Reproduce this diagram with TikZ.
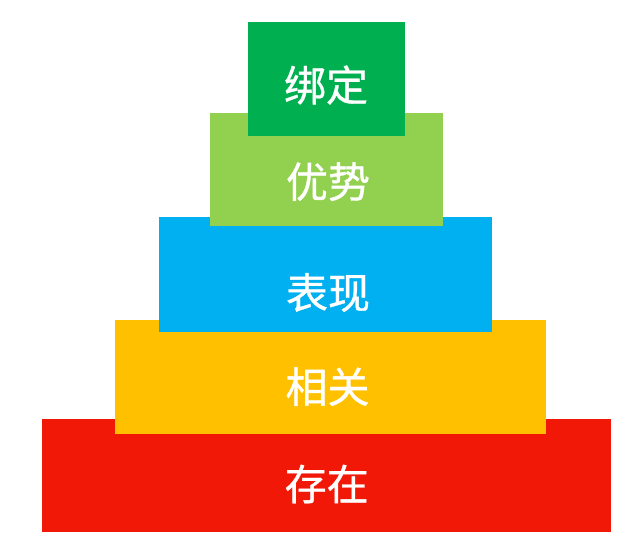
\documentclass[tikz,border=0pt]{standalone}
\usepackage{fontspec}
\newfontfamily\cjk[FakeBold=0.8]{Noto Sans CJK SC}
\definecolor{cGreen}{HTML}{00B050}
\definecolor{cLight}{HTML}{92D050}
\definecolor{cBlue}{HTML}{00B0F0}
\definecolor{cYellow}{HTML}{FFC000}
\definecolor{cRed}{HTML}{F21807}
\tikzset{
  tier/.style={draw=none, inner sep=0pt, outer sep=0pt},
  tiertext/.style={text=white, inner sep=0pt, font=\cjk\fontsize{42}{42}\selectfont},
}
\begin{document}
\begin{tikzpicture}[x=1pt,y=-1pt]
\useasboundingbox (0,0) rectangle (640,548);
% boxes, bottom first
\node[tier, fill=cRed, minimum width=568.7pt, minimum height=113.3pt] (b5) at (326.35,475.65) {};
\node[tier, fill=cYellow, minimum width=430.7pt, minimum height=113.7pt] (b4) at (330.65,376.85) {};
\node[tier, fill=cBlue, minimum width=332.4pt, minimum height=114.4pt] (b3) at (325.5,274.5) {};
\node[tier, fill=cLight, minimum width=233.3pt, minimum height=112.7pt] (b2) at (326.65,169.65) {};
\node[tier, fill=cGreen, minimum width=156.7pt, minimum height=114pt] (b1) at (326.65,78.7) {};
% labels
\node[tiertext] (t1) at (326,85) {绑定};
\node[tiertext] (t2) at (328,181.7) {优势};
\node[tiertext] (t3) at (328,292.5) {表现};
\node[tiertext] (t4) at (327.5,386.7) {相关};
\node[tiertext] (t5) at (326.7,484) {存在};
\end{tikzpicture}
\end{document}
